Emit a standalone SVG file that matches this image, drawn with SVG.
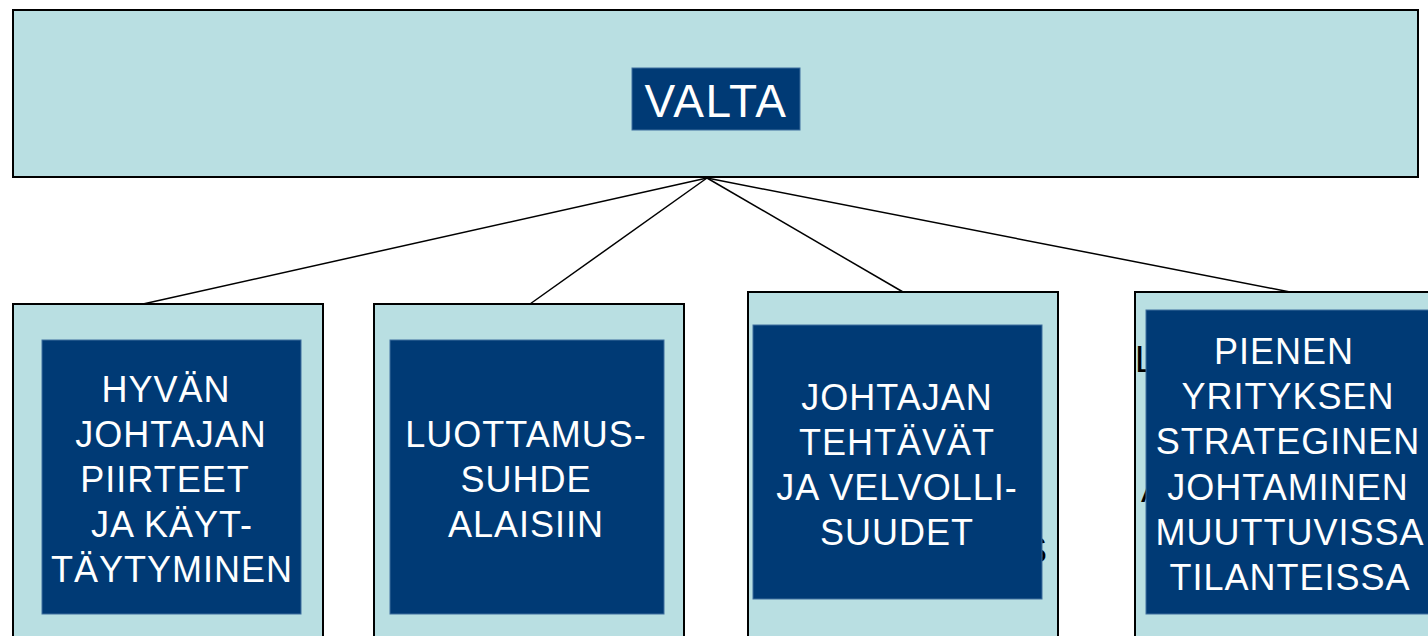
<svg xmlns="http://www.w3.org/2000/svg" width="1428" height="636" viewBox="0 0 1428 636">
<style>
.outer{fill:#b9dfe2;stroke:#000;stroke-width:2}
.inner{fill:#003a75;stroke:#3f6f9e;stroke-width:1}
.lbl{font-family:"Liberation Sans",Arial,sans-serif;font-size:36px;fill:#fff;text-anchor:middle;letter-spacing:1px}
.frag{font-family:"Liberation Sans",Arial,sans-serif;font-size:36px;fill:#000}
.conn{stroke:#000;stroke-width:1.5;fill:none}
</style>
<rect width="1428" height="636" fill="#fff"/>
<g id="connectors">
<line class="conn" x1="707" y1="178" x2="143" y2="304"/>
<line class="conn" x1="707" y1="178" x2="530" y2="304"/>
<line class="conn" x1="707" y1="178" x2="903" y2="292"/>
<line class="conn" x1="707" y1="178" x2="1290" y2="292"/>
</g>
<g id="valta">
<rect class="outer" x="13" y="10" width="1405" height="167"/>
<rect class="inner" x="632" y="68" width="168" height="62" stroke="none"/>
<text x="716" y="117" font-family="'Liberation Sans',Arial,sans-serif" font-size="46" fill="#fff" text-anchor="middle" letter-spacing="1.5">VALTA</text>
</g>
<g id="node1">
<rect class="outer" x="13" y="304" width="310" height="340"/>
<rect class="inner" x="42" y="340" width="259" height="274"/>
<text class="lbl" x="166" y="402">HYVÄN</text>
<text class="lbl" x="171" y="447">JOHTAJAN</text>
<text class="lbl" x="165" y="492">PIIRTEET</text>
<text class="lbl" x="172" y="537">JA KÄYT-</text>
<text class="lbl" x="172" y="582">TÄYTYMINEN</text>
</g>
<g id="node2">
<rect class="outer" x="374" y="304" width="310" height="340"/>
<rect class="inner" x="390" y="340" width="274" height="274"/>
<text class="lbl" x="526" y="447">LUOTTAMUS-</text>
<text class="lbl" x="526" y="492">SUHDE</text>
<text class="lbl" x="526" y="537">ALAISIIN</text>
</g>
<g id="node3">
<rect class="outer" x="748" y="292" width="310" height="352"/>
<text class="frag" x="1047" y="563" text-anchor="end">S</text>
<rect class="inner" x="753" y="325" width="289" height="274"/>
<text class="lbl" x="897" y="410">JOHTAJAN</text>
<text class="lbl" x="897" y="455">TEHTÄVÄT</text>
<text class="lbl" x="897" y="500">JA VELVOLLI-</text>
<text class="lbl" x="897" y="545">SUUDET</text>
</g>
<g id="node4">
<rect class="outer" x="1135" y="292" width="310" height="352"/>
<text class="frag" x="1135" y="372">L</text>
<text class="frag" x="1141" y="502">A</text>
<rect class="inner" x="1146" y="310" width="290" height="304"/>
<text class="lbl" x="1284" y="364">PIENEN</text>
<text class="lbl" x="1288" y="409">YRITYKSEN</text>
<text class="lbl" x="1288" y="454">STRATEGINEN</text>
<text class="lbl" x="1288" y="500">JOHTAMINEN</text>
<text class="lbl" x="1290" y="545">MUUTTUVISSA</text>
<text class="lbl" x="1290" y="590">TILANTEISSA</text>
</g>
</svg>
